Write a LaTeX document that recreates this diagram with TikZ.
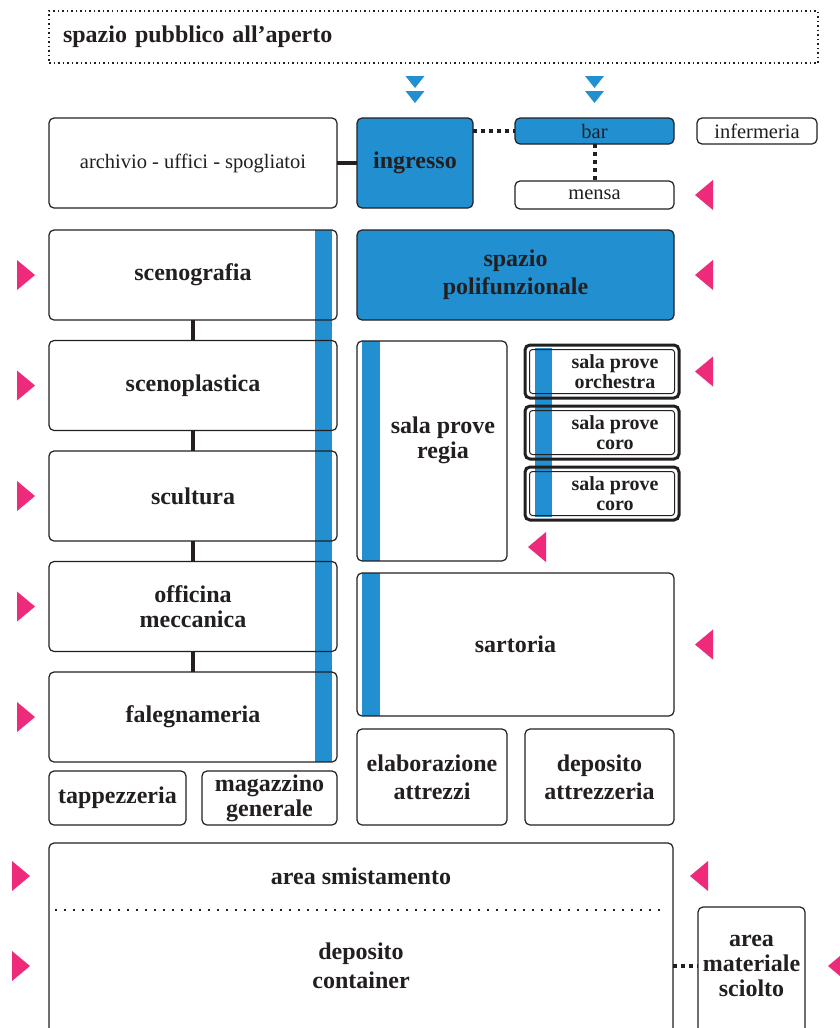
\documentclass[tikz,border=0pt]{standalone}
\usepackage{fontspec}
\setmainfont{Liberation Serif}
\usetikzlibrary{positioning}
\usetikzlibrary{backgrounds}
\definecolor{blu}{HTML}{2290D0}
\definecolor{rosa}{HTML}{EE2A7B}
\definecolor{tratto}{HTML}{231F20}
\tikzset{
  titolo/.style={text=tratto, align=center, font=\bfseries\fontsize{24}{25}\selectfont},
  piccolo/.style={text=tratto, align=center, font=\bfseries\fontsize{20}{20}\selectfont},
  box/.style={titolo, draw=tratto, line width=1.2pt, rounded corners=5pt, outer sep=0pt},
  boxsottile/.style={box, font=\fontsize{20.5}{24}\selectfont},
  bluebox/.style={box, fill=blu},
  sala/.style={draw=tratto, line width=3pt, rounded corners=5pt, outer sep=0pt, minimum width=154pt, minimum height=53pt},
  link/.style={draw=tratto, line width=4pt},
  linkdot/.style={draw=tratto, line width=4pt, dash pattern=on 4pt off 4pt},
}
% accessi
\newcommand{\entradx}[1]{\fill[rosa] (#1) -- ++(-18,-15) -- ++(0,30) -- cycle;}
\newcommand{\entrasx}[1]{\fill[rosa] (#1) -- ++(18,-15) -- ++(0,30) -- cycle;}
\newcommand{\accesso}[1]{\fill[blu] (#1) -- ++(-9.5,-12) -- ++(19,0) -- cycle;}

\begin{document}
\begin{tikzpicture}[x=1pt, y=-1pt]
  \useasboundingbox (0,0) rectangle (840,1028);

  \node (aperto) [titolo, draw=tratto, line width=1.5pt, dash pattern=on 1.5pt off 3pt,
    anchor=north west, outer sep=0pt, inner xsep=14pt, text width=741pt, align=left,
    minimum height=52pt] at (49,11) {spazio pubblico all'aperto};

  % ingresso e servizi
  \node (archivio) [boxsottile, minimum width=288pt, minimum height=90pt, anchor=north west] at (49,118) {archivio - uffici - spogliatoi};
  \node (ingresso) [bluebox, minimum width=116pt, minimum height=90pt, right=20pt of archivio] {ingresso};
  \node (bar) [boxsottile, fill=blu, minimum width=159pt, minimum height=26pt, right=42pt of ingresso.north east, anchor=north west] {bar};
  \node (infermeria) [boxsottile, minimum width=120pt, minimum height=26pt, right=23pt of bar] {infermeria};
  \node (mensa) [boxsottile, minimum width=159pt, minimum height=28pt, below=37pt of bar] {mensa};

  % laboratori
  \node (scenografia) [box, minimum width=288pt, minimum height=90pt, below=22pt of archivio] {scenografia};
  \node (scenoplastica) [box, minimum width=288pt, minimum height=90pt, below=20.5pt of scenografia] {scenoplastica};
  \node (scultura) [box, minimum width=288pt, minimum height=90pt, below=20.5pt of scenoplastica] {scultura};
  \node (officina) [box, minimum width=288pt, minimum height=90pt, below=20.5pt of scultura] {officina\\meccanica};
  \node (falegnameria) [box, minimum width=288pt, minimum height=90pt, below=20.5pt of officina] {falegnameria};
  \node (tappezzeria) [box, minimum width=137pt, minimum height=54pt, below=9pt of falegnameria.south west, anchor=north west] {tappezzeria};
  \node (magazzino) [box, minimum width=135pt, minimum height=54pt, below=9pt of falegnameria.south east, anchor=north east] {magazzino\\generale};

  % sale
  \node (polifunzionale) [bluebox, minimum width=317pt, minimum height=90pt, below=22pt of ingresso.south west, anchor=north west] {spazio\\[3pt]polifunzionale};
  \node (regia) [box, minimum width=150pt, minimum height=220pt, below=21pt of polifunzionale.south west, anchor=north west] {};
  \node (regiatxt) [titolo] at ([xshift=11pt, yshift=11pt]regia.center) {sala prove\\regia};
  \node (orchestra) [sala, right=18pt of regia.north east, anchor=north west, yshift=-4pt] {};
  \node (coro) [sala, below=8pt of orchestra] {};
  \node (coro2) [sala, below=8pt of coro] {};
  \node (orchestratxt) [piccolo] at ([xshift=13pt]orchestra.center) {sala prove\\orchestra};
  \node (corotxt) [piccolo] at ([xshift=13pt]coro.center) {sala prove\\coro};
  \node (coro2txt) [piccolo] at ([xshift=13pt]coro2.center) {sala prove\\coro};
  \foreach \s in {orchestra,coro,coro2}
    \draw[tratto, line width=1pt, rounded corners=3pt] ([shift={(4.5pt,-4.5pt)}]\s.north west) rectangle ([shift={(-4.5pt,4.5pt)}]\s.south east);
  \node (sartoria) [box, minimum width=317pt, minimum height=143pt, below=12pt of regia.south west, anchor=north west] {sartoria};
  \node (elaborazione) [box, minimum width=150pt, minimum height=96pt, below=13pt of sartoria.south west, anchor=north west] {elaborazione\\[3pt]attrezzi};
  \node (deposito) [box, minimum width=149pt, minimum height=96pt, below=13pt of sartoria.south east, anchor=north east] {deposito\\[3pt]attrezzeria};

  % area esterna di servizio
  \node (container) [box, minimum width=624pt, minimum height=240pt, below=18pt of tappezzeria.south west, anchor=north west] {};
  \node (smistamento) [titolo] at ([yshift=-33pt]container.north) {area smistamento};
  \node (depcontainer) [titolo] at ([yshift=-123pt]container.north) {deposito\\[4pt]container};
  \draw[tratto, line width=1.5pt, dash pattern=on 1.5pt off 7.5pt] ([xshift=6pt, yshift=-67pt]container.north west) -- ([xshift=-6pt, yshift=-67pt]container.north east);
  \node (sciolto) [box, minimum width=107pt, minimum height=200pt, right=25pt of container.north east, anchor=north west, yshift=-64pt] {};
  \node (scioltotxt) [titolo] at (sciolto.north |- depcontainer) {area\\materiale\\sciolto};

  % collegamenti
  \draw[link] (archivio) -- (ingresso);
  \draw[linkdot] (bar.west -| ingresso.east) -- (bar.west);
  \draw[linkdot] (bar) -- (mensa);
  \draw[link] (scenografia) -- (scenoplastica);
  \draw[link] (scenoplastica) -- (scultura);
  \draw[link] (scultura) -- (officina);
  \draw[link] (officina) -- (falegnameria);
  \draw[linkdot] (depcontainer -| container.east) -- (depcontainer -| sciolto.west);

  \begin{scope}[on background layer]
    \fill[white] (0,0) rectangle (840,1028);
    \fill[blu] ([xshift=-22pt]scenografia.north east) rectangle ([xshift=-5pt]falegnameria.south east);
    \fill[blu] ([xshift=5pt]regia.north west) rectangle ([xshift=23pt]regia.south west);
    \fill[blu] ([xshift=5pt]sartoria.north west) rectangle ([xshift=23pt]sartoria.south west);
    \fill[blu] ([xshift=10pt,yshift=-3pt]orchestra.north west) rectangle ([xshift=27pt,yshift=3pt]coro2.south west);
  \end{scope}

  % accessi
  \accesso{[yshift=30pt]ingresso.north}
  \accesso{[yshift=15pt]ingresso.north}
  \accesso{[yshift=30pt]bar.north}
  \accesso{[yshift=15pt]bar.north}
  \foreach \n in {scenografia,scenoplastica,scultura,officina,falegnameria}
    {\entradx{[xshift=-14pt]\n.west}}
  \entrasx{[xshift=21pt]mensa.east}
  \entrasx{[xshift=21pt]polifunzionale.east}
  \entrasx{[xshift=16pt]orchestra.east}
  \entrasx{[xshift=21pt,yshift=14pt]regia.south east}
  \entrasx{[xshift=21pt]sartoria.east}
  \entradx{[xshift=-19pt]container.west |- smistamento}
  \entradx{[xshift=-19pt]container.west |- depcontainer}
  \entrasx{[xshift=17pt]container.east |- smistamento}
  \entrasx{[xshift=23pt]sciolto.east |- scioltotxt}
\end{tikzpicture}
\end{document}
